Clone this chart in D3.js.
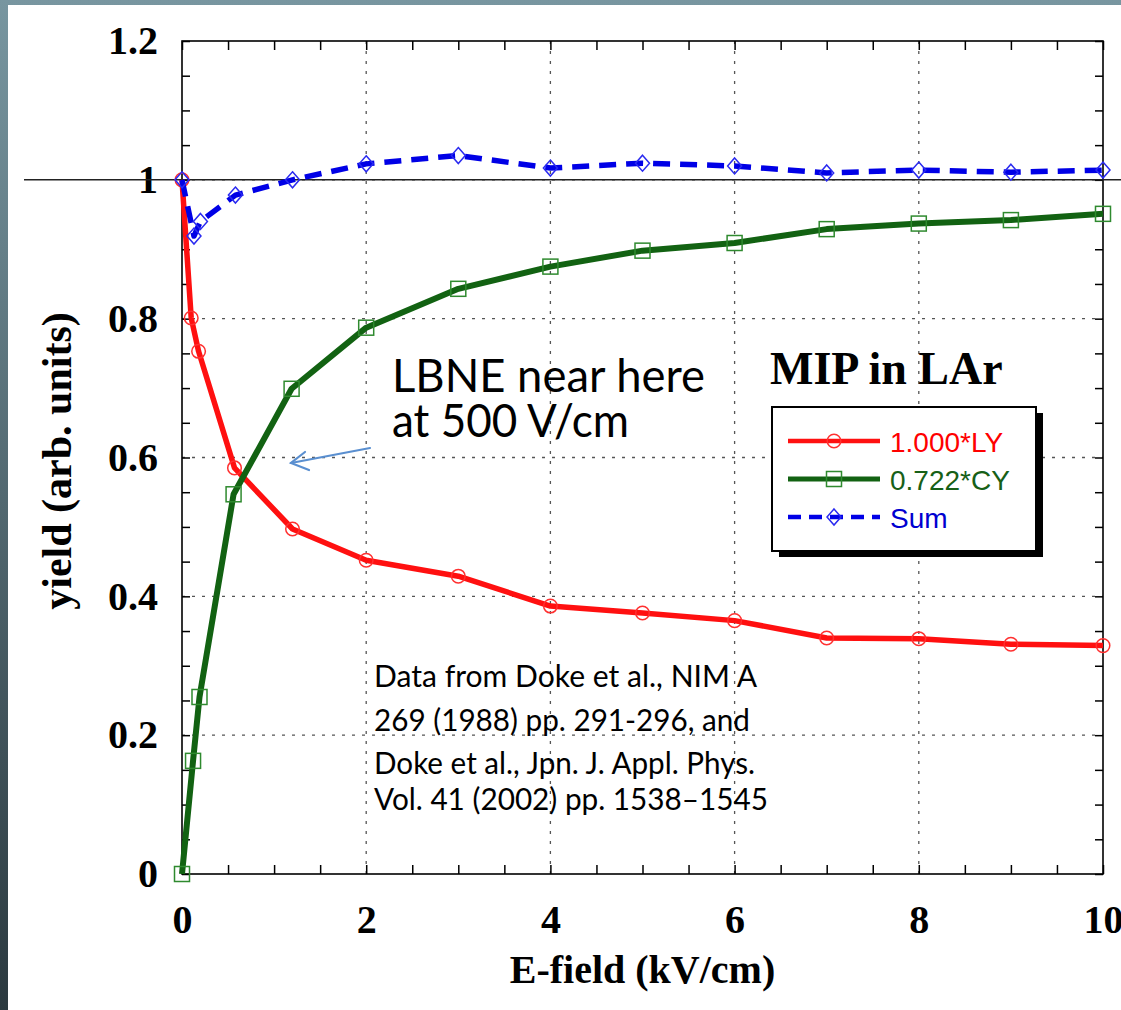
<!DOCTYPE html>
<html>
<head>
<meta charset="utf-8">
<script src="https://cdn.jsdelivr.net/npm/d3@7"></script>
<style>
  body { margin: 0; background: #fff; }
  svg { display: block; }
</style>
</head>
<body>
<svg id="chart" width="1121" height="1010"></svg>
<script>
// values (Doke et al.)
const lyField = [0, 0.1, 0.18, 0.57, 1.2, 2, 3, 4, 5, 6, 7, 8, 9, 10];
const lyYield = [1.0, 0.801, 0.753, 0.585, 0.497, 0.452, 0.429, 0.386, 0.376, 0.365, 0.34, 0.339, 0.331, 0.329];

const cyField = [0, 0.12, 0.19, 0.56, 1.19, 2, 3, 4, 5, 6, 7, 8, 9, 10];
const cyYield = [0, 0.163, 0.255, 0.547, 0.699, 0.787, 0.843, 0.875, 0.898, 0.909, 0.929, 0.937, 0.942, 0.951];

const sumField = [0, 0.13, 0.2, 0.58, 1.2, 2, 3, 4, 5, 6, 7, 8, 9, 10];
const sumYield = [1.0, 0.919, 0.94, 0.978, 1.0, 1.023, 1.035, 1.017, 1.024, 1.02, 1.01, 1.014, 1.011, 1.014];

const xTicks = d3.range(0, 10.01, 0.5);
const yTicks = d3.range(0, 1.201, 0.05);
const xLabelTicks = [0, 2, 4, 6, 8, 10];
const yLabelTicks = [0, 0.2, 0.4, 0.6, 0.8, 1, 1.2];
const legendLabels = ["1.000*LY", "0.722*CY", "Sum"];
const noteLines = [
  "Data from Doke et al., NIM A",
  "269 (1988) pp. 291-296, and",
  "Doke et al., Jpn. J. Appl. Phys.",
  "Vol. 41 (2002) pp. 1538\u20131545"
];

const W = 1121, H = 1010;
const svg = d3.select("#chart");

const x = d3.scaleLinear().domain([0, 10]).range([182, 1103]);
const y = d3.scaleLinear().domain([0, 1.2]).range([874, 41]);

const serif = "'Liberation Serif', 'Times New Roman', serif";
const sans = "'Liberation Sans', Arial, sans-serif";
const slideFont = "Lato, 'Open Sans', sans-serif";

// slide background peeking round the edges
const defs = svg.append("defs");
const grad = defs.append("linearGradient")
  .attr("id", "slide").attr("x1", 0).attr("y1", 0).attr("x2", 0).attr("y2", 1);
grad.append("stop").attr("offset", 0).attr("stop-color", "#7896a0");
grad.append("stop").attr("offset", 1).attr("stop-color", "#2b393f");
svg.append("rect").attr("width", W).attr("height", H).attr("fill", "url(#slide)");
svg.append("rect").attr("x", 8).attr("y", 5).attr("width", W - 8).attr("height", H - 5).attr("fill", "#fff");

// dotted grid at the labelled ticks
const grid = svg.append("g")
  .attr("stroke", "#555").attr("stroke-width", 1.3).attr("stroke-dasharray", "3,7");
grid.selectAll("line.gx")
  .data(xLabelTicks.slice(1, -1))
  .join("line").attr("class", "gx")
  .attr("x1", d => x(d)).attr("x2", d => x(d))
  .attr("y1", y(0)).attr("y2", y(1.2));
grid.selectAll("line.gy")
  .data(yLabelTicks.slice(1, -1))
  .join("line").attr("class", "gy")
  .attr("x1", x(0)).attr("x2", x(10))
  .attr("y1", d => y(d)).attr("y2", d => y(d));

// inward ticks on all four sides
function tidy(g) {
  g.select(".domain").remove();
  g.selectAll(".tick line").attr("stroke", "#000").attr("stroke-width", 1.5);
}
const fmtY = d => (yLabelTicks.some(t => Math.abs(t - d) < 1e-6) ? d3.format("~g")(d) : "");
const fmtX = d => (xLabelTicks.includes(d) ? d : "");

svg.append("g")
  .attr("transform", `translate(0,${y(0)})`)
  .call(d3.axisBottom(x).tickValues(xTicks).tickSizeInner(-9).tickSizeOuter(0).tickPadding(31).tickFormat(fmtX))
  .call(tidy)
  .call(g => g.selectAll("text").attr("font-family", serif).attr("font-weight", "bold")
    .attr("font-size", 40).attr("fill", "#000"));

svg.append("g")
  .attr("transform", `translate(${x(0)},0)`)
  .call(d3.axisLeft(y).tickValues(yTicks).tickSizeInner(-8).tickSizeOuter(0).tickPadding(24).tickFormat(fmtY))
  .call(tidy)
  .call(g => g.selectAll("text").attr("font-family", serif).attr("font-weight", "bold")
    .attr("font-size", 40).attr("fill", "#000"));

svg.append("g")
  .attr("transform", `translate(0,${y(1.2)})`)
  .call(d3.axisTop(x).tickValues(xTicks).tickSizeInner(-9).tickSizeOuter(0).tickFormat(""))
  .call(tidy);

svg.append("g")
  .attr("transform", `translate(${x(10)},0)`)
  .call(d3.axisRight(y).tickValues(yTicks).tickSizeInner(-8).tickSizeOuter(0).tickFormat(""))
  .call(tidy);

// plot frame
svg.append("rect")
  .attr("x", x(0)).attr("y", y(1.2))
  .attr("width", x(10) - x(0)).attr("height", y(0) - y(1.2))
  .attr("fill", "none").attr("stroke", "#000").attr("stroke-width", 1.6);

// reference line at yield = 1 drawn across the slide
svg.append("line")
  .attr("x1", 24).attr("x2", W)
  .attr("y1", y(1)).attr("y2", y(1))
  .attr("stroke", "#222").attr("stroke-width", 1.5);

// axis titles
svg.append("text")
  .attr("x", (x(0) + x(10)) / 2)
  .attr("y", 983)
  .attr("text-anchor", "middle")
  .attr("font-family", serif).attr("font-weight", "bold").attr("font-size", 40)
  .text("E-field (kV/cm)");

svg.append("text")
  .attr("transform", `translate(71,461) rotate(-90)`)
  .attr("text-anchor", "middle")
  .attr("font-family", serif).attr("font-weight", "bold").attr("font-size", 42)
  .text("yield (arb. units)");

// series
const line = d3.line().x(d => x(d[0])).y(d => y(d[1]));
const ly = d3.zip(lyField, lyYield);
const cy = d3.zip(cyField, cyYield);
const sum = d3.zip(sumField, sumYield);

const series = [
  { key: "ly", data: ly, line: "#ff1010", mark: "#ff3030", width: 5.5, dash: null, shape: "circle", text: "#ff0000" },
  { key: "cy", data: cy, line: "#126212", mark: "#2f8a2f", width: 6, dash: null, shape: "square", text: "#176017" },
  { key: "sum", data: sum, line: "#0000e6", mark: "#2a2af0", width: 5.5, dash: "17,10", shape: "diamond", text: "#0000d0" }
];

function marker(g, shape, color) {
  if (shape === "circle") {
    g.append("circle").attr("r", 6.8).attr("fill", "none").attr("stroke", color).attr("stroke-width", 1.5);
  } else if (shape === "square") {
    g.append("rect").attr("x", -7.5).attr("y", -7.5).attr("width", 15).attr("height", 15)
      .attr("fill", "none").attr("stroke", color).attr("stroke-width", 1.5);
  } else {
    g.append("path").attr("d", "M0,-8L7,0L0,8L-7,0Z")
      .attr("fill", "none").attr("stroke", color).attr("stroke-width", 1.5);
  }
}

series.forEach(s => {
  svg.append("path")
    .datum(s.data)
    .attr("d", line)
    .attr("fill", "none")
    .attr("stroke", s.line)
    .attr("stroke-width", s.width)
    .attr("stroke-linejoin", "round")
    .attr("stroke-dasharray", s.dash);
  svg.append("g").selectAll("g")
    .data(s.data)
    .join("g")
    .attr("transform", d => `translate(${x(d[0])},${y(d[1])})`)
    .each(function () { marker(d3.select(this), s.shape, s.mark); });
});

// plot title
svg.append("text")
  .attr("x", 770).attr("y", 384)
  .attr("font-family", serif).attr("font-weight", "bold").attr("font-size", 46)
  .text("MIP in LAr");

// legend with drop shadow
const leg = svg.append("g").attr("transform", "translate(772,407)");
leg.append("rect").attr("x", 7).attr("y", 6).attr("width", 264).attr("height", 144).attr("fill", "#000");
leg.append("rect").attr("width", 264).attr("height", 144).attr("fill", "#fff")
  .attr("stroke", "#000").attr("stroke-width", 2);
series.forEach((s, i) => {
  const ry = 34 + i * 38;
  leg.append("line")
    .attr("x1", 16).attr("x2", 108).attr("y1", ry).attr("y2", ry)
    .attr("stroke", s.line).attr("stroke-width", s.width - 1)
    .attr("stroke-dasharray", s.dash ? "13,8" : null);
  marker(leg.append("g").attr("transform", `translate(62,${ry})`), s.shape, s.mark);
  leg.append("text")
    .attr("x", 118).attr("y", ry + 11)
    .attr("font-family", sans).attr("font-size", 28)
    .attr("fill", s.text)
    .text(legendLabels[i]);
});

// slide annotation and arrow
const note = svg.append("g").attr("font-family", slideFont).attr("fill", "#000");
note.append("text").attr("x", 392).attr("y", 392).attr("font-size", 46)
  .attr("textLength", 313).attr("lengthAdjust", "spacingAndGlyphs").text("LBNE near here");
note.append("text").attr("x", 392).attr("y", 437).attr("font-size", 46)
  .attr("textLength", 237).attr("lengthAdjust", "spacingAndGlyphs").text("at 500 V/cm");

const arrow = svg.append("g").attr("stroke", "#5a8fd0").attr("stroke-width", 2.2)
  .attr("fill", "none").attr("stroke-linecap", "round");
arrow.append("line").attr("x1", 370).attr("y1", 448).attr("x2", 291).attr("y2", 463);
arrow.append("path").attr("d", "M305,452 L291,463 L309,470");

const noteEnds = [757, 750, 755, 768];
svg.append("g").attr("font-family", slideFont).attr("font-size", 30).attr("fill", "#000")
  .selectAll("text")
  .data(noteLines)
  .join("text")
  .attr("x", 374)
  .attr("y", (d, i) => [687, 731, 774, 810][i])
  .attr("textLength", (d, i) => noteEnds[i] - 374)
  .attr("lengthAdjust", "spacingAndGlyphs")
  .text(d => d);
</script>
</body>
</html>
